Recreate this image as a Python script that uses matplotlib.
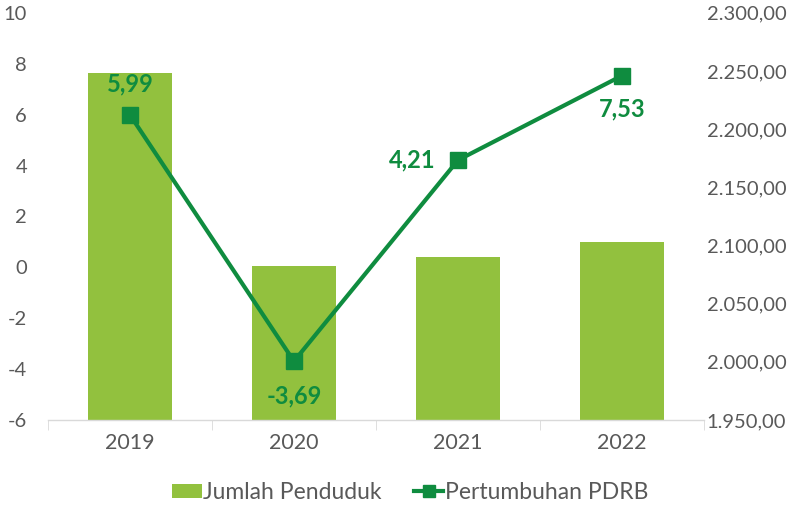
import numpy as np
import matplotlib.pyplot as plt
from matplotlib.ticker import FuncFormatter

years = ['2019', '2020', '2021', '2022']
jumlah_penduduk = [2248.5, 2082.5, 2090.5, 2103.0]
pertumbuhan_pdrb = [5.99, -3.69, 4.21, 7.53]
pdrb_labels = ['5,99', '-3,69', '4,21', '7,53']

bar_color = '#92C13E'
line_color = '#0F8C3F'
text_color = '#595959'

plt.rcParams['font.family'] = ['Lato', 'DejaVu Sans']
plt.rcParams['axes.unicode_minus'] = False

fig = plt.figure(figsize=(8.12, 5.11), dpi=100)
ax = fig.add_axes([0.059, 0.178, 0.808, 0.797])
ax2 = ax.twinx()

x = np.arange(len(years))

# bars on the right axis, line on the left axis
ax2.bar(x, jumlah_penduduk, width=0.51, color=bar_color,
        label='Jumlah Penduduk', zorder=1)
ax2.set_ylim(1950, 2300)
ax2.set_yticks(np.arange(1950, 2301, 50))
ax2.yaxis.set_major_formatter(
    FuncFormatter(lambda v, p: f'{v:,.2f}'.replace(',', 'X')
                  .replace('.', ',').replace('X', '.')))

ax.set_zorder(ax2.get_zorder() + 1)
ax.patch.set_visible(False)
ax.plot(x, pertumbuhan_pdrb, color=line_color, linewidth=3, marker='s',
        markersize=11, label='Pertumbuhan PDRB', zorder=3)
ax.set_ylim(-6, 10)
ax.set_yticks(np.arange(-6, 11, 2))
ax.set_xlim(-0.5, 3.5)
ax.set_xticks(x)
ax.set_xticklabels(years)

offsets = [(0, 22), (0, -25), (-33, 0), (0, -24)]
for xi, yi, lab, off in zip(x, pertumbuhan_pdrb, pdrb_labels, offsets):
    ax.annotate(lab, (xi, yi), xytext=off, textcoords='offset points',
                ha='center', va='center', fontsize=17, fontweight='bold',
                color=line_color)

for a in (ax, ax2):
    for s in ('top', 'left', 'right'):
        a.spines[s].set_visible(False)
    a.tick_params(axis='y', length=0, labelsize=14.5, colors=text_color)
ax2.spines['bottom'].set_visible(False)
ax.spines['bottom'].set_color('#D9D9D9')
ax.spines['bottom'].set_linewidth(1)
ax.tick_params(axis='x', length=0, labelsize=15.5, colors=text_color, pad=9)
ax.tick_params(axis='y', pad=15)
ax2.tick_params(axis='y', pad=2)
# category separators on the axis line
ax.set_xticks(np.arange(-0.5, 3.6, 1), minor=True)
ax.tick_params(axis='x', which='minor', length=7, color='#D9D9D9')

h1, l1 = ax2.get_legend_handles_labels()
h2, l2 = ax.get_legend_handles_labels()
fig.legend(h1 + h2, l1 + l2, loc='lower center', ncol=2, frameon=False,
           bbox_to_anchor=(0.505, -0.025), fontsize=16.5,
           labelcolor=text_color, handlelength=1.3, handleheight=0.6,
           handletextpad=0.05, columnspacing=1.4, markerscale=0.8)

plt.savefig('out.png', dpi=100)
plt.close()
